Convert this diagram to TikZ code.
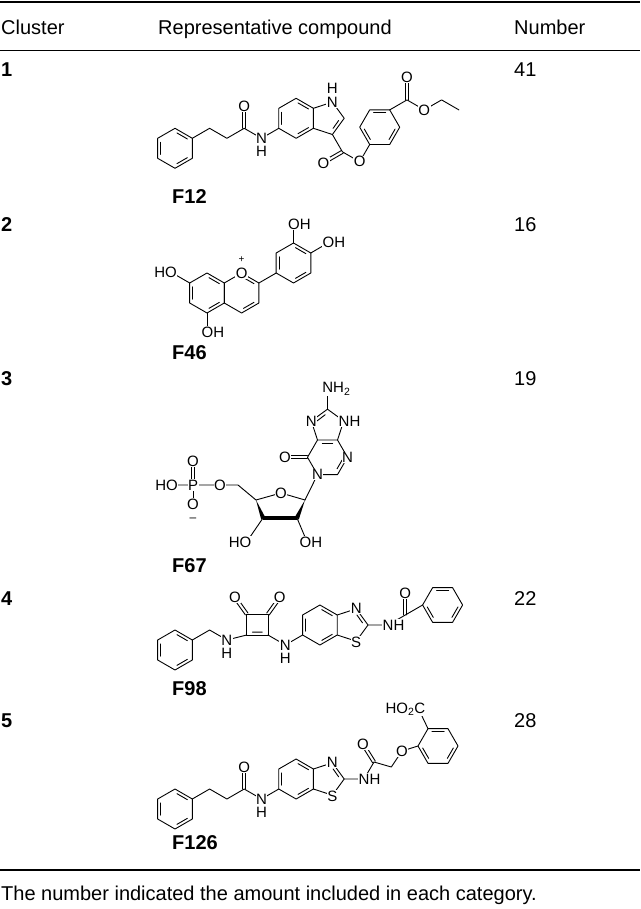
\documentclass[tikz,border=0pt]{standalone}
\usepackage{fontspec}
\setmainfont{Liberation Sans}
\usetikzlibrary{calc}
\tikzset{
 bond/.style={line width=0.9pt,line cap=round,line join=round},
 atom/.style={font=\fontsize{15}{15}\selectfont,fill=white,inner sep=0.5pt},
 hatom/.style={font=\fontsize{15}{15}\selectfont,inner sep=0.5pt},
 txt/.style={font=\fontsize{20}{22}\selectfont,inner sep=0pt,anchor=base west},
 cpd/.style={font=\fontsize{20}{22}\selectfont\bfseries,inner sep=0pt,anchor=base west},
 rule/.style={line width=1.6pt}
}
\newcommand\hexa[3]{\draw[bond] ($(#1,#2)+(#3:20)$) -- ($(#1,#2)+(#3+60:20)$) -- ($(#1,#2)+(#3+120:20)$) -- ($(#1,#2)+(#3+180:20)$) -- ($(#1,#2)+(#3+240:20)$) -- ($(#1,#2)+(#3+300:20)$) -- cycle;}
\newcommand\ring[4]{\hexa{#1}{#2}{#3}\foreach \s in {#4}{\draw[bond] ($(#1,#2)+(\s+7:15.5)$) -- ($(#1,#2)+(\s+53:15.5)$);}}
\newcommand\inb[3]{\path ($(#1)!0.18!(#2)$) coordinate (ipa) ($(#1)!0.82!(#2)$) coordinate (ipb); \draw[bond] ($(ipa)!3.5pt!(#3)$) -- ($(ipb)!3.5pt!(#3)$);}
\newcommand\dbl[2]{\draw[bond] ($(#1)!1.6pt!90:(#2)$) -- ($(#2)!1.6pt!-90:(#1)$); \draw[bond] ($(#1)!1.6pt!-90:(#2)$) -- ($(#2)!1.6pt!90:(#1)$);}
\begin{document}
\begin{tikzpicture}[x=1pt,y=-1pt]
\useasboundingbox (0,0) rectangle (640,909);
% rules
\draw[rule] (0,2) -- (640,2);
\draw[line width=0.8pt] (0,50) -- (640,50);
\draw[rule] (0,870) -- (640,870);
% header
\node[txt] (h1) at (1,35) {Cluster};
\node[txt] (h2) at (158,35) {Representative compound};
\node[txt] (h3) at (514,35) {Number};
% rows
\node[txt,font=\fontsize{20}{22}\selectfont\bfseries] (c1) at (1,77) {1};
\node[txt,font=\fontsize{20}{22}\selectfont\bfseries] (c2) at (1,232) {2};
\node[txt,font=\fontsize{20}{22}\selectfont\bfseries] (c3) at (1,385) {3};
\node[txt,font=\fontsize{20}{22}\selectfont\bfseries] (c4) at (1,605) {4};
\node[txt,font=\fontsize{20}{22}\selectfont\bfseries] (c5) at (1,727) {5};
\node[txt] (n1) at (514,77) {41};
\node[txt] (n2) at (514,232) {16};
\node[txt] (n3) at (514,385) {19};
\node[txt] (n4) at (514,605) {22};
\node[txt] (n5) at (514,727) {28};
\node[txt] (foot) at (1,900) {The number indicated the amount included in each category.};
\node[cpd] (l1) at (172,204) {F12};
\node[cpd] (l2) at (172,359) {F46};
\node[cpd] (l3) at (172,572) {F67};
\node[cpd] (l4) at (172,695) {F98};
\node[cpd] (l5) at (172,849) {F126};

% ================= F12
\ring{175}{148.3}{30}{30,150,270}
\draw[bond] (192.3,138.3) -- (209.6,128.3) -- (226.9,138.3) -- (244.2,128.3) -- (261.5,138.3) -- (278.8,128.3);
\dbl{244.2,128.3}{244.2,108.3}
\ring{296.1}{118.3}{30}{150,270,30}
\draw[bond] (313.4,108.3) -- (332.4,102.1) -- (344.2,118.3) -- (332.4,134.5) -- (313.4,128.3);
\inb{344.2,118.3}{332.4,134.5}{328.5,118.3}
\draw[bond] (332.4,134.5) -- (342.4,151.8) -- (359.7,161.8) -- (369.7,144.5);
\dbl{342.4,151.8}{325.1,161.8}
\ring{379.7}{127.2}{0}{0,120,240}
\draw[bond] (389.7,109.9) -- (407,99.9) -- (424.3,109.9) -- (441.6,99.9) -- (458.9,109.9);
\dbl{407,99.9}{407,79.9}
\node[atom] (f12o1) at (244.2,106) {O};
\node[atom] (f12n1) at (261.5,138.3) {N};
\node[hatom] (f12h1) at (261.5,151) {H};
\node[atom] (f12n2) at (332.4,102.1) {N};
\node[hatom] (f12h2) at (332.4,88) {H};
\node[atom] (f12o2) at (323.5,163) {O};
\node[atom] (f12o3) at (359.7,161.8) {O};
\node[atom] (f12o4) at (407,77.5) {O};
\node[atom] (f12o5) at (424.3,109.9) {O};

% ================= F46
\ring{207}{293}{30}{150,270,30}
\ring{241.6}{293}{30}{270,30}
\draw[bond] (189.7,283) -- (172.4,273);
\draw[bond] (207,313) -- (207,329);
\draw[bond] (258.9,283) -- (276.2,273);
\ring{293.5}{263}{30}{30,150,270}
\draw[bond] (293.5,243) -- (293.5,227);
\draw[bond] (310.8,253) -- (327,243.5);
\node[atom] (f46o1) at (241.6,273) {O};
\node[hatom] (f46p) at (241.6,260) {\fontsize{10}{10}\selectfont +};
\node[atom,anchor=east] (f46o2) at (177.5,272.5) {HO};
\node[atom,anchor=west] (f46o3) at (201,332) {OH};
\node[atom,anchor=west] (f46o4) at (287.5,224) {OH};
\node[atom,anchor=west] (f46o5) at (322,242) {OH};

% ================= F67
\hexa{327.5}{457.3}{0}
\inb{317.5,440}{337.5,440}{327.5,457.3}
\inb{337.5,474.6}{347.5,457.3}{327.5,457.3}
\dbl{307.5,457.3}{287.5,457.3}
\draw[bond] (317.5,440) -- (311.3,421) -- (327.5,409.2) -- (343.7,421) -- (337.5,440);
\inb{311.3,421}{327.5,409.2}{327.5,428.5}
\draw[bond] (327.5,409.2) -- (327.5,392);
\draw[bond] (317.5,474.6) -- (305,500);
% sugar
\draw[bond] (305,500) -- (281,493) -- (256,500);
\draw[line width=3.2pt] (263,518) -- (297,518);
\fill (256,500) -- (261.2,519.5) -- (264.8,516.5) -- cycle;
\fill (305,500) -- (295.2,516.5) -- (298.8,519.5) -- cycle;
\draw[bond] (256,500) -- (238,485) -- (220,485) -- (193,485) -- (178,485);
\dbl{193,485}{193,462}
\draw[bond] (193,485) -- (193,504);
\draw[bond] (263,518) -- (250,537);
\draw[bond] (297,518) -- (305,537);
\node[atom] (f67n7) at (311.3,421) {N};
\node[atom,anchor=west] (f67n9) at (338,421) {NH};
\node[atom,anchor=west] (f67nh2) at (321.7,389) {NH\textsubscript{2}};
\node[atom] (f67n3) at (347.5,457.3) {N};
\node[atom] (f67n1) at (317.5,474.6) {N};
\node[atom] (f67o6) at (285,457.3) {O};
\node[atom] (f67o4) at (281,493) {O};
\node[atom] (f67o5) at (220,485) {O};
\node[atom] (f67p) at (193,485) {P};
\node[atom,anchor=east] (f67ho) at (178.5,485) {HO};
\node[atom] (f67o7) at (193,461) {O};
\node[atom] (f67o8) at (193,504) {O};
\node[hatom] (f67m) at (193,520) {\fontsize{12}{12}\selectfont –};
\node[atom,anchor=east] (f67o9) at (252,542) {HO};
\node[atom,anchor=west] (f67o10) at (299,542) {OH};

% ================= F98
\ring{175}{650}{30}{30,150,270}
\draw[bond] (192.3,640) -- (209.6,630) -- (226.9,640) -- (246.7,635);
\draw[bond] (246.7,635) -- (246.7,614) -- (268,614) -- (268,635) -- cycle;
\inb{246.7,635}{268,635}{257.3,624.5}
\dbl{246.7,614}{236,599}
\dbl{268,614}{278.7,599}
\draw[bond] (268,635) -- (285.3,645) -- (302.6,635);
\ring{319.9}{625}{30}{150,270,30}
\draw[bond] (337.2,615) -- (356.2,608.8) -- (368,625) -- (356.2,641.2) -- (337.2,635);
\inb{356.2,608.8}{368,625}{352.3,625}
\draw[bond] (368,625) -- (388,625) -- (405.3,615) -- (422.6,605);
\dbl{405.3,615}{405.3,595}
\ring{442.6}{605}{0}{0,120,240}
\node[atom] (f98n1) at (226.9,640) {N};
\node[hatom] (f98h1) at (226.9,653.5) {H};
\node[atom] (f98o1) at (235,597.5) {O};
\node[atom] (f98o2) at (279.7,597.5) {O};
\node[atom] (f98n2) at (285.3,645) {N};
\node[hatom] (f98h2) at (285.3,658.5) {H};
\node[atom] (f98n3) at (356.2,608.8) {N};
\node[atom] (f98s) at (356.2,642) {S};
\node[atom,anchor=west] (f98nh) at (382,625) {NH};
\node[atom] (f98o3) at (405.3,593) {O};

% ================= F126
\begin{scope}[yshift=6pt]
\ring{175}{815}{30}{30,150,270}
\draw[bond] (192.3,805) -- (209.6,795) -- (226.9,805) -- (244.2,795) -- (261.5,805) -- (278.8,795);
\dbl{244.2,795}{244.2,775}
\ring{296.1}{785}{30}{150,270,30}
\draw[bond] (313.4,775) -- (332.4,768.8) -- (344.2,785) -- (332.4,801.2) -- (313.4,795);
\inb{332.4,768.8}{344.2,785}{328.5,785}
\draw[bond] (344.2,785) -- (364,785) -- (374,768) -- (391.3,773) -- (402,757) -- (418,752);
\dbl{374,768}{364,752}
\ring{438}{752}{0}{0,120,240}
\draw[bond] (428,734.7) -- (420,718);
\node[atom] (f126o1) at (244.2,773) {O};
\node[atom] (f126n1) at (261.5,805) {N};
\node[hatom] (f126h1) at (261.5,818.5) {H};
\node[atom] (f126n3) at (332.4,768.8) {N};
\node[atom] (f126s) at (332.4,802) {S};
\node[atom,anchor=west] (f126nh) at (358,785) {NH};
\node[atom] (f126o2) at (363,750) {O};
\node[atom] (f126o3) at (402,757) {O};
\node[atom,anchor=east] (f126co) at (426,715) {HO\textsubscript{2}C};
\end{scope}
\end{tikzpicture}
\end{document}
